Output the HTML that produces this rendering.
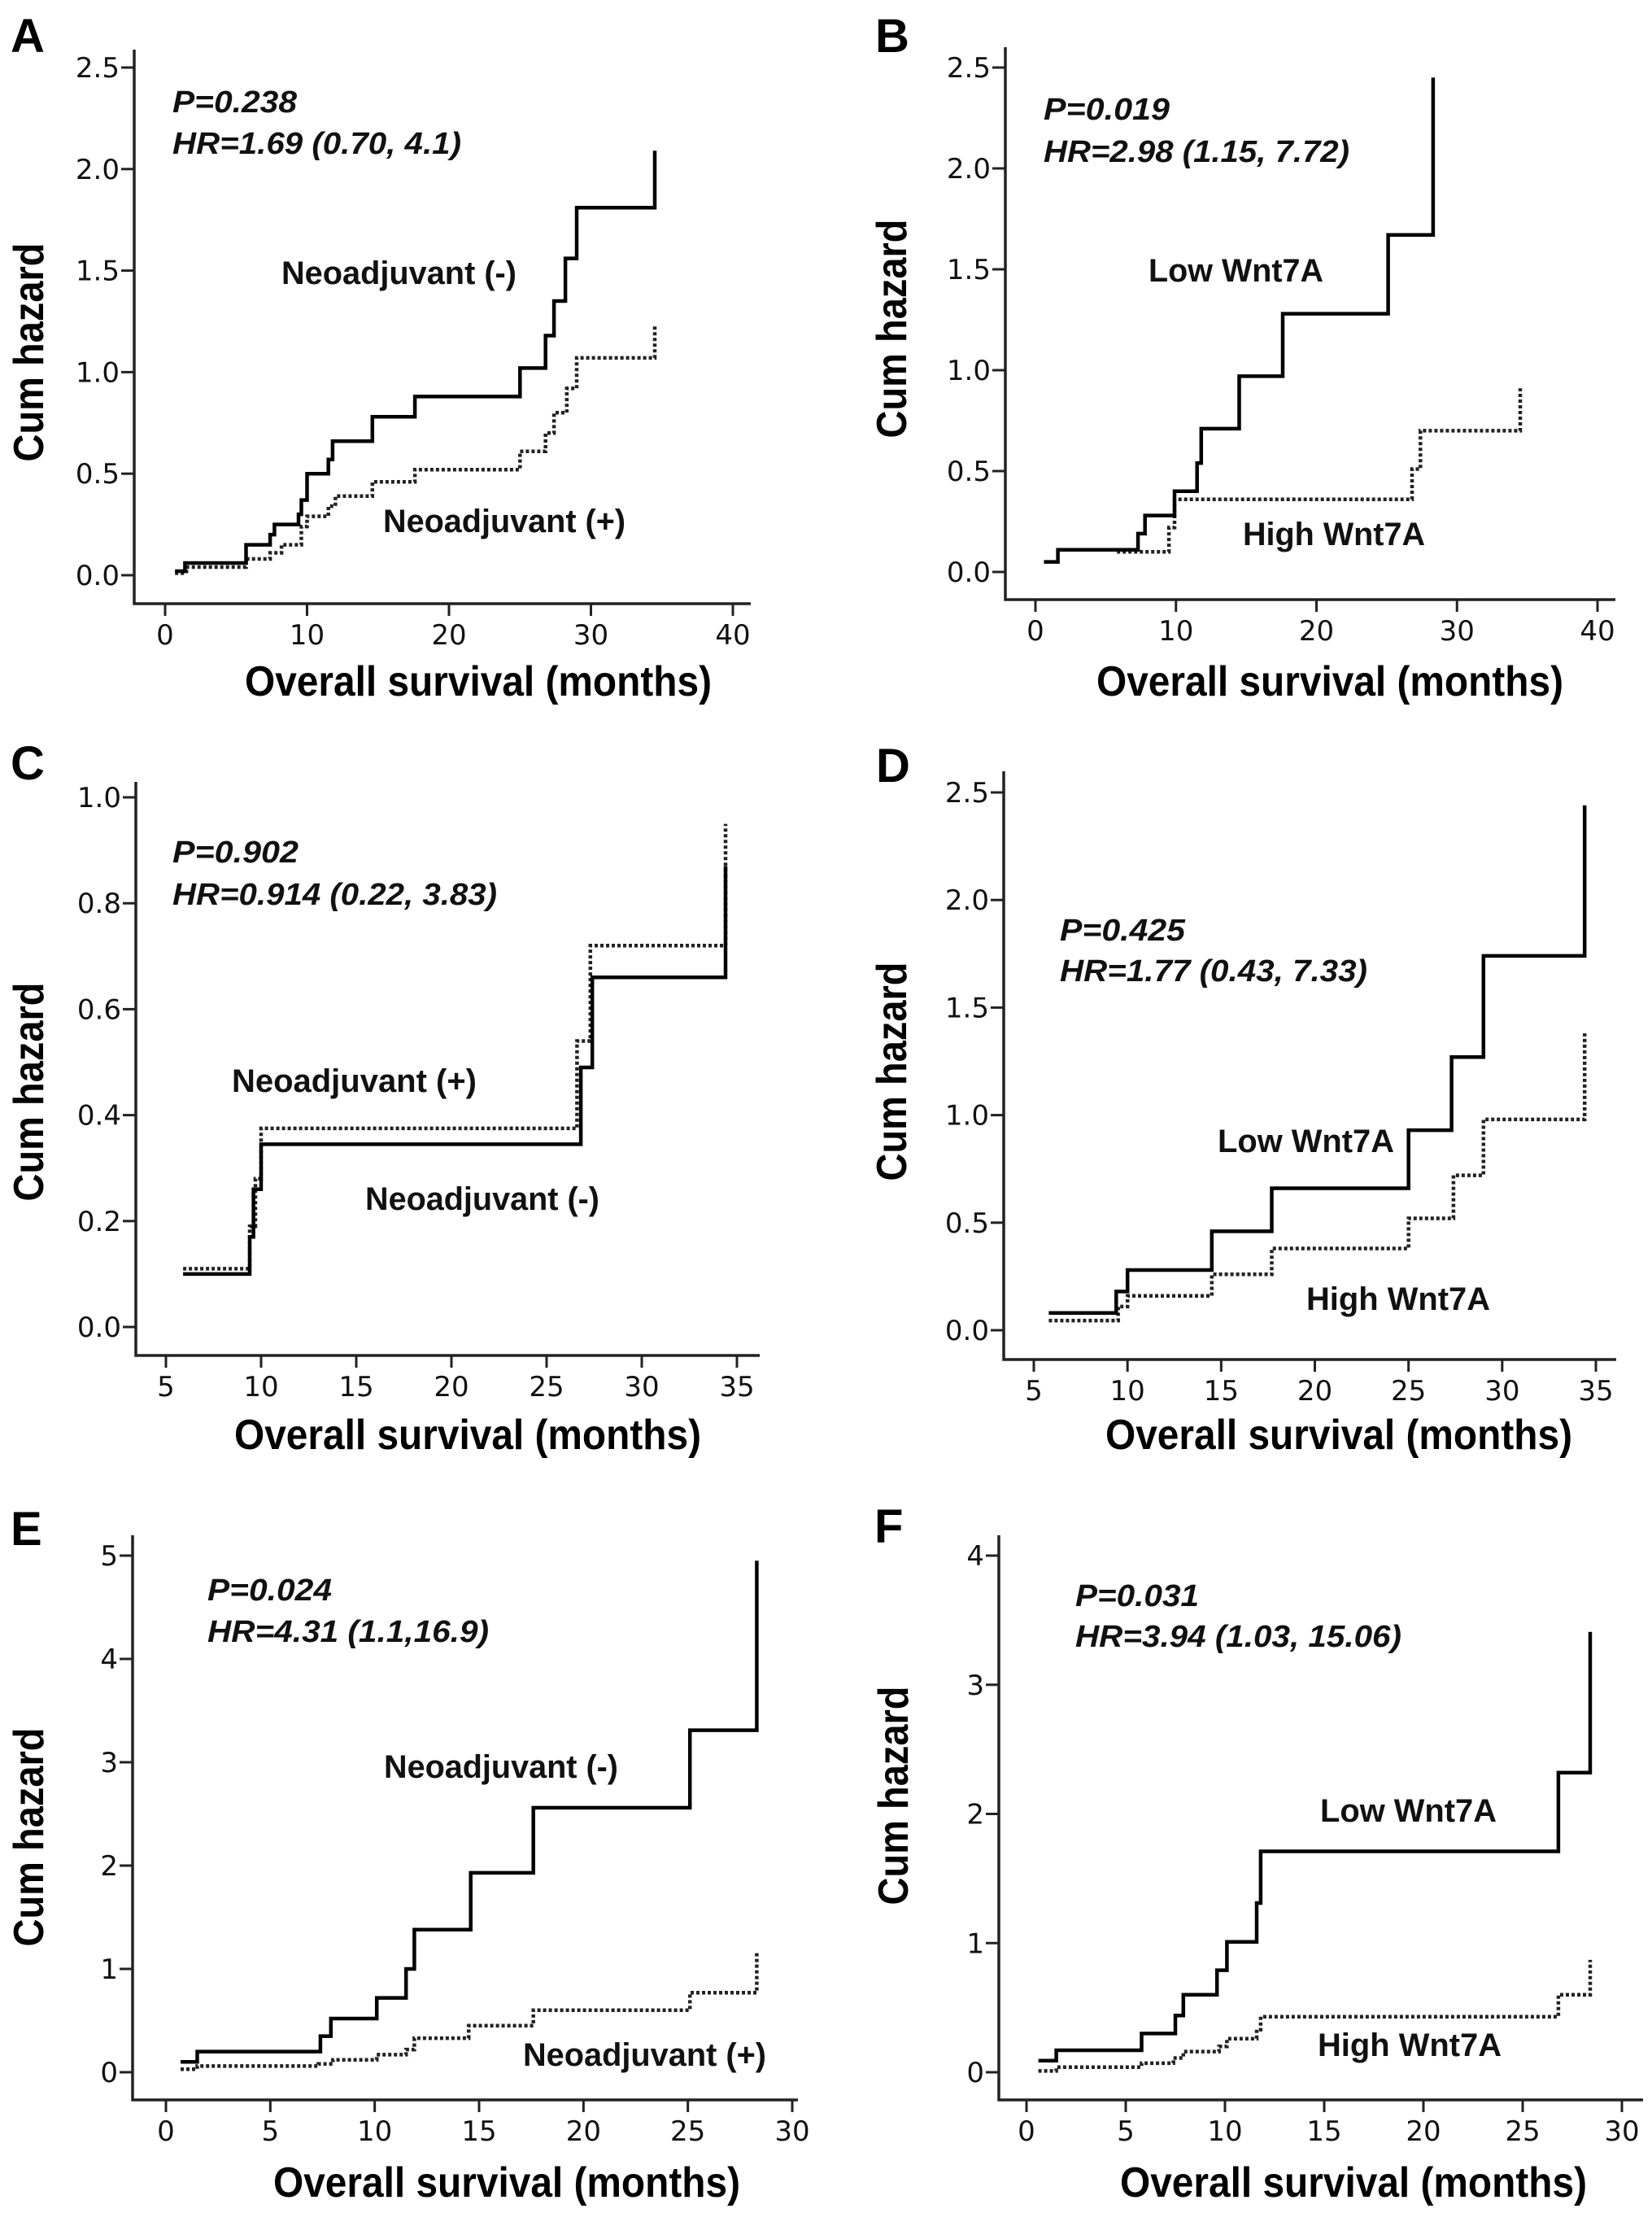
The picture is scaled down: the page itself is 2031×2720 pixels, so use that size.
<!DOCTYPE html>
<html><head><meta charset="utf-8"><style>
html,body{margin:0;padding:0;background:#fff;}
svg{display:block;}
.tick{font-family:"DejaVu Sans",sans-serif;font-size:34px;fill:#111;}
.title{font-family:"Liberation Sans",sans-serif;font-weight:bold;font-size:52px;fill:#000;}
.ann{font-family:"Liberation Sans",sans-serif;font-weight:bold;font-style:italic;font-size:38px;fill:#111;}
.lab{font-family:"Liberation Sans",sans-serif;font-weight:bold;font-size:40px;fill:#111;}
.letter{font-family:"Liberation Sans",sans-serif;font-weight:bold;font-size:58px;fill:#000;}
</style></head><body>
<svg id="fig" width="2031" height="2720" viewBox="0 0 2031 2720" xmlns="http://www.w3.org/2000/svg"></svg>
<script>
// ---- data (months, cumulative hazard) ----
const aSolidT=[0.7,1.4,5.7,7.4,7.7,9.4,9.6,10.0,11.5,11.8,14.6,17.6,25.0,26.8,27.4,28.2,29.0,34.5];
const aSolidV=[0.02,0.06,0.15,0.20,0.25,0.30,0.37,0.50,0.57,0.66,0.78,0.88,1.02,1.18,1.35,1.56,1.81,2.09];
const aDotT=[0.7,1.5,5.7,7.4,8.2,9.6,10.0,11.5,12.0,14.6,17.6,25.0,26.8,27.4,28.3,29.0,34.5];
const aDotV=[0.01,0.04,0.08,0.11,0.15,0.24,0.29,0.34,0.39,0.46,0.52,0.61,0.70,0.80,0.92,1.07,1.23];
const bSolidT=[0.6,1.6,7.3,7.8,9.9,11.5,11.8,14.5,17.6,25.1,28.3];
const bSolidV=[0.05,0.11,0.19,0.28,0.40,0.54,0.71,0.97,1.28,1.67,2.45];
const bDotT=[5.8,9.5,9.9,26.8,27.4,34.5];
const bDotV=[0.10,0.22,0.36,0.51,0.70,0.91];
const cSolidT=[5.9,9.4,9.6,10.0,26.8,27.4,34.4];
const cSolidV=[0.10,0.17,0.26,0.345,0.49,0.66,0.87];
const cDotT=[5.9,9.4,9.7,10.0,26.6,27.3,34.4];
const cDotV=[0.11,0.19,0.28,0.375,0.54,0.72,0.95];
const dSolidT=[5.8,9.4,10.0,14.5,17.7,25.0,27.3,29.0,34.4];
const dSolidV=[0.08,0.18,0.28,0.46,0.66,0.93,1.27,1.74,2.44];
const dDotT=[5.8,9.5,10.0,14.5,17.7,25.0,27.4,29.0,34.4];
const dDotV=[0.045,0.11,0.16,0.26,0.38,0.52,0.72,0.98,1.38];
const eSolidT=[0.7,1.5,7.4,7.9,10.1,11.5,11.9,14.6,17.6,25.1,28.3];
const eSolidV=[0.10,0.20,0.35,0.52,0.72,1.00,1.38,1.93,2.56,3.31,4.95];
const eDotT=[0.7,1.5,7.3,8.0,10.1,11.5,11.9,14.5,17.6,25.1,28.3];
const eDotV=[0.03,0.06,0.08,0.12,0.17,0.22,0.33,0.45,0.60,0.77,1.16];
const fSolidT=[0.6,1.5,5.8,7.5,7.9,9.6,10.1,11.6,11.8,26.8,28.4];
const fSolidV=[0.09,0.17,0.30,0.44,0.60,0.79,1.01,1.31,1.71,2.32,3.41];
const fDotT=[0.6,1.5,5.8,7.4,7.9,9.7,10.1,11.6,11.8,26.8,28.4];
const fDotV=[0.01,0.04,0.07,0.11,0.16,0.20,0.26,0.33,0.43,0.60,0.87];
// tick labels
const ticksA_Y=["0.0","0.5","1.0","1.5","2.0","2.5"], ticksA_X=["0","10","20","30","40"];
const ticksC_Y=["0.0","0.2","0.4","0.6","0.8","1.0"], ticksC_X=["5","10","15","20","25","30","35"];
const ticksD_Y=["0.0","0.5","1.0","1.5","2.0","2.5"];
const ticksE_Y=["0","1","2","3","4","5"], ticksE_X=["0","5","10","15","20","25","30"];
const ticksF_Y=["0","1","2","3","4"];

const NS="http://www.w3.org/2000/svg";
const svg=document.getElementById('fig');
function mk(tag,attrs,parent){const e=document.createElementNS(NS,tag);for(const k in attrs)e.setAttribute(k,attrs[k]);(parent||svg).appendChild(e);return e;}

const panels=[
 {id:'a',letter:'A',lx:13,ly:64,ax:165,top:61,bot:742,right:923,y0:707,y1:83,yv0:0,yv1:2.5,yt:ticksA_Y,x0:203,x1:901,xv0:0,xv1:40,xt:ticksA_X,
  st:aSolidT,sv:aSolidV,dt:aDotT,dv:aDotV,tx:588,tyb:855,ylx:53,yly:433,
  p:['P=0.238',212,138,153],hr:['HR=1.69 (0.70, 4.1)',212,189,355],
  l1:['Neoadjuvant (-)',346,349,289],l2:['Neoadjuvant (+)',471,654,298]},
 {id:'b',letter:'B',lx:1076,ly:64,ax:1236,top:58,bot:737,right:1986,y0:703,y1:83,yv0:0,yv1:2.5,yt:ticksA_Y,x0:1273,x1:1964,xv0:0,xv1:40,xt:ticksA_X,
  st:bSolidT,sv:bSolidV,dt:bDotT,dv:bDotV,tx:1635,tyb:855,ylx:1114,yly:404,
  p:['P=0.019',1283,147,155],hr:['HR=2.98 (1.15, 7.72)',1283,199,376],
  l1:['Low Wnt7A',1412,346,215],l2:['High Wnt7A',1528,670,224]},
 {id:'c',letter:'C',lx:13,ly:958,ax:167,top:961,bot:1666,right:934,y0:1631,y1:980,yv0:0,yv1:1.0,yt:ticksC_Y,x0:204,x1:906,xv0:5,xv1:35,xt:ticksC_X,
  st:cSolidT,sv:cSolidV,dt:cDotT,dv:cDotV,tx:575,tyb:1781,ylx:53,yly:1342,
  p:['P=0.902',212,1060,155],hr:['HR=0.914 (0.22, 3.83)',212,1112,399],
  l1:['Neoadjuvant (+)',285,1342,301],l2:['Neoadjuvant (-)',449,1487,288]},
 {id:'d',letter:'D',lx:1077,ly:961,ax:1234,top:948,bot:1671,right:1987,y0:1635,y1:974,yv0:0,yv1:2.5,yt:ticksD_Y,x0:1271,x1:1962,xv0:5,xv1:35,xt:ticksC_X,
  st:dSolidT,sv:dSolidV,dt:dDotT,dv:dDotV,tx:1646,tyb:1781,ylx:1114,yly:1317,
  p:['P=0.425',1303,1156,154],hr:['HR=1.77 (0.43, 7.33)',1303,1206,378],
  l1:['Low Wnt7A',1497,1416,217],l2:['High Wnt7A',1606,1610,226]},
 {id:'e',letter:'E',lx:13,ly:1899,ax:163,top:1887,bot:2581,right:981,y0:2547,y1:1912,yv0:0,yv1:5,yt:ticksE_Y,x0:204,x1:974,xv0:0,xv1:30,xt:ticksE_X,
  st:eSolidT,sv:eSolidV,dt:eDotT,dv:eDotV,tx:623,tyb:2700,ylx:53,yly:2258,
  p:['P=0.024',255,1967,153],hr:['HR=4.31 (1.1,16.9)',255,2018,346],
  l1:['Neoadjuvant (-)',472,2185,288],l2:['Neoadjuvant (+)',643,2539,299]},
 {id:'f',letter:'F',lx:1075,ly:1896,ax:1228,top:1887,bot:2581,right:2020,y0:2547,y1:1912,yv0:0,yv1:4,yt:ticksF_Y,x0:1262,x1:1994,xv0:0,xv1:30,xt:ticksE_X,
  st:fSolidT,sv:fSolidV,dt:fDotT,dv:fDotV,tx:1664,tyb:2700,ylx:1116,yly:2207,
  p:['P=0.031',1322,1974,152],hr:['HR=3.94 (1.03, 15.06)',1322,2024,401],
  l1:['Low Wnt7A',1623,2239,217],l2:['High Wnt7A',1620,2527,226]}
];

function stepPath(T,V,sx,sy){
  let d='M'+sx(T[0]).toFixed(1)+','+sy(V[0]).toFixed(1);
  for(let i=1;i<T.length;i++){
    d+=' H'+sx(T[i]).toFixed(1)+' V'+sy(V[i]).toFixed(1);
  }
  return d;
}

panels.forEach(P=>{
  const g=mk('g',{});
  
  
  const sx=v=>P.x0+(v-P.xv0)/(P.xv1-P.xv0)*(P.x1-P.x0);
  const sy=v=>P.y0+(v-P.yv0)/(P.yv1-P.yv0)*(P.y1-P.y0);
  const L=mk('text',{x:P.lx,y:P.ly,class:'letter'},g);L.textContent=P.letter;
  
  
  const axes=mk('path',{d:`M${P.ax},${P.top} V${P.bot} H${P.right}`,fill:'none',stroke:'#222','stroke-width':3.5},g);
  
  
  P.yt.forEach((t,i)=>{
    const v=P.yv0+(P.yv1-P.yv0)*i/(P.yt.length-1);
    const y=sy(v);
    mk('line',{x1:P.ax-16,x2:P.ax,y1:y,y2:y,stroke:'#222','stroke-width':3},g);
    const tx=mk('text',{x:P.ax-18,y:y+12,'text-anchor':'end',class:'tick'},g);tx.textContent=t;
    
    
  });
  P.xt.forEach((t,i)=>{
    const v=P.xv0+(P.xv1-P.xv0)*i/(P.xt.length-1);
    const x=sx(v);
    mk('line',{x1:x,x2:x,y1:P.bot,y2:P.bot+15,stroke:'#222','stroke-width':3},g);
    const tx=mk('text',{x:x,y:P.bot+50,'text-anchor':'middle',class:'tick'},g);tx.textContent=t;
    
    
  });
  const dot=mk('path',{d:stepPath(P.dt,P.dv,sx,sy),fill:'none',stroke:'#222','stroke-width':4.5,'stroke-dasharray':'4,3'},g);
  
  
  const sol=mk('path',{d:stepPath(P.st,P.sv,sx,sy),fill:'none',stroke:'#000','stroke-width':4.5},g);
  
  
  const ti=mk('text',{x:P.tx,y:P.tyb,'text-anchor':'middle',class:'title',textLength:574,lengthAdjust:'spacingAndGlyphs'},g);
  ti.textContent='Overall survival (months)';
  
  
  const yl=mk('text',{x:0,y:0,'text-anchor':'middle',class:'title',textLength:269,lengthAdjust:'spacingAndGlyphs',transform:`translate(${P.ylx},${P.yly}) rotate(-90)`},g);
  yl.textContent='Cum hazard';
  
  
  [['p','p-value'],['hr','hazard-ratio']].forEach(([k,n])=>{
    const a=P[k];
    const t=mk('text',{x:a[1],y:a[2],class:'ann',textLength:a[3],lengthAdjust:'spacingAndGlyphs'},g);t.textContent=a[0];
    
    
  });
  [['l1','series-label-1'],['l2','series-label-2']].forEach(([k,n])=>{
    const a=P[k];
    const t=mk('text',{x:a[1],y:a[2],class:'lab',textLength:a[3],lengthAdjust:'spacingAndGlyphs'},g);t.textContent=a[0];
    
    
  });
});
</script>
</body></html>
